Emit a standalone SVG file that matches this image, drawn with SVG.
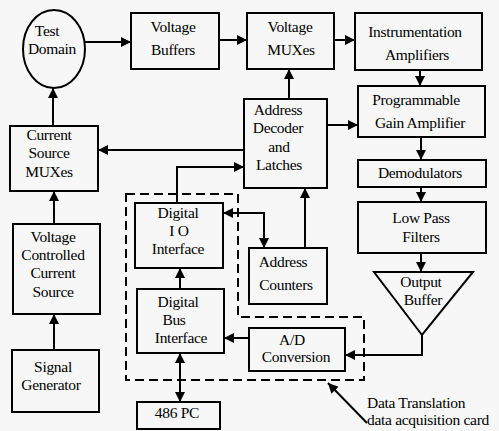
<svg xmlns="http://www.w3.org/2000/svg" width="499" height="431" viewBox="0 0 499 431">
<defs>
<marker id="ah" viewBox="0 0 10 10" refX="10" refY="5" markerWidth="10" markerHeight="10" markerUnits="userSpaceOnUse" orient="auto-start-reverse">
<path d="M0,0 L10,5 L0,10 z" fill="#000"/>
</marker>
</defs>
<style>
.b{fill:none;stroke:#000;stroke-width:2}
.t{font-family:"Liberation Serif","Times New Roman",serif;font-size:15.5px;fill:#000;text-anchor:middle;letter-spacing:-0.3px}
.c{fill:none;stroke:#000;stroke-width:2;marker-end:url(#ah)}
.d{fill:none;stroke:#000;stroke-width:2;marker-start:url(#ah);marker-end:url(#ah)}
.dash{fill:none;stroke:#000;stroke-width:2;stroke-dasharray:9,5}
</style>
<rect width="499" height="431" fill="#f7f7f7"/>
<g id="test-domain"><ellipse class="b" cx="54" cy="49" rx="31" ry="39"/><text class="t" x="47" y="36">Test</text><text class="t" x="52" y="54">Domain</text></g>
<g id="voltage-buffers"><rect class="b" x="131" y="13" width="88" height="56"/><text class="t" x="173" y="32">Voltage</text><text class="t" x="173" y="55">Buffers</text></g>
<g id="voltage-muxes"><rect class="b" x="247" y="13" width="87" height="56"/><text class="t" x="290" y="32">Voltage</text><text class="t" x="291" y="55">MUXes</text></g>
<g id="instrumentation-amplifiers"><rect class="b" x="355" y="13" width="127" height="57"/><text class="t" x="415" y="37">Instrumentation</text><text class="t" x="417" y="60">Amplifiers</text></g>
<g id="pga"><rect class="b" x="358" y="86" width="127" height="51"/><text class="t" x="416" y="105">Programmable</text><text class="t" x="420" y="128">Gain Amplifier</text></g>
<g id="demodulators"><rect class="b" x="358" y="160" width="128" height="27"/><text class="t" x="420" y="178">Demodulators</text></g>
<g id="low-pass-filters"><rect class="b" x="358" y="202" width="128" height="51"/><text class="t" x="421" y="223">Low Pass</text><text class="t" x="421" y="242">Filters</text></g>
<g id="output-buffer"><polygon class="b" points="374,272 473,272 422,335"/><text class="t" x="421" y="287">Output</text><text class="t" x="423" y="305">Buffer</text></g>
<g id="address-decoder"><rect class="b" x="244" y="99" width="83" height="89"/><text class="t" x="278" y="115">Address</text><text class="t" x="278" y="133">Decoder</text><text class="t" x="279" y="152">and</text><text class="t" x="279" y="170">Latches</text></g>
<g id="current-source-muxes"><rect class="b" x="10" y="126" width="88" height="65"/><text class="t" x="49" y="140">Current</text><text class="t" x="49" y="158">Source</text><text class="t" x="49" y="177">MUXes</text></g>
<g id="vccs"><rect class="b" x="13" y="224" width="87" height="90"/><text class="t" x="53" y="242">Voltage</text><text class="t" x="53" y="260">Controlled</text><text class="t" x="53" y="278">Current</text><text class="t" x="53" y="297">Source</text></g>
<g id="signal-generator"><rect class="b" x="12" y="350" width="87" height="62"/><text class="t" x="53" y="372">Signal</text><text class="t" x="51" y="390">Generator</text></g>
<g id="digital-io"><rect class="b" x="135" y="203" width="88" height="65"/><text class="t" x="178" y="218">Digital</text><text class="t" x="179" y="236">I O</text><text class="t" x="178" y="254">Interface</text></g>
<g id="address-counters"><rect class="b" x="249" y="248" width="78" height="56"/><text class="t" x="283" y="267">Address</text><text class="t" x="286" y="290">Counters</text></g>
<g id="digital-bus"><rect class="b" x="137" y="289" width="87" height="64"/><text class="t" x="178" y="307">Digital</text><text class="t" x="174" y="325">Bus</text><text class="t" x="181" y="343">Interface</text></g>
<g id="ad-conversion"><rect class="b" x="249" y="328" width="96" height="43"/><text class="t" x="292" y="345">A/D</text><text class="t" x="296" y="362">Conversion</text></g>
<g id="pc"><rect class="b" x="137" y="402" width="83" height="27"/><text class="t" x="177" y="418">486 PC</text></g>
<g id="daq-card"><polygon class="dash" points="126,194 238,194 238,317 364,317 364,380 126,380"/><text class="t" x="367" y="408" style="text-anchor:start">Data Translation</text><text class="t" x="367" y="425" style="text-anchor:start">data acquisition card</text></g>
<g id="connectors">
<line class="c" x1="85" y1="42" x2="131" y2="42"/>
<line class="c" x1="219" y1="40" x2="247" y2="40"/>
<line class="c" x1="334" y1="40" x2="355" y2="40"/>
<line class="c" x1="420" y1="70" x2="420" y2="86"/>
<line class="c" x1="421" y1="137" x2="421" y2="160"/>
<line class="c" x1="421" y1="187" x2="421" y2="202"/>
<line class="c" x1="421" y1="253" x2="421" y2="272"/>
<polyline class="c" points="422,335 422,355 345,355"/>
<line class="c" x1="249" y1="338" x2="224" y2="338"/>
<line class="c" x1="289" y1="99" x2="289" y2="69"/>
<line class="c" x1="327" y1="125" x2="358" y2="125"/>
<line class="c" x1="244" y1="150" x2="98" y2="150"/>
<line class="c" x1="53" y1="126" x2="53" y2="88"/>
<line class="c" x1="54" y1="224" x2="54" y2="191"/>
<line class="c" x1="54" y1="350" x2="54" y2="314"/>
<line class="c" x1="305" y1="248" x2="305" y2="188"/>
<polyline class="c" points="177,203 177,167 244,167"/>
<polyline class="d" points="223,213 264,213 264,248"/>
<line class="c" x1="180" y1="289" x2="180" y2="268"/>
<line class="d" x1="180" y1="353" x2="180" y2="402"/>
<line class="c" x1="367" y1="423" x2="328" y2="383"/>
</g>
</svg>
